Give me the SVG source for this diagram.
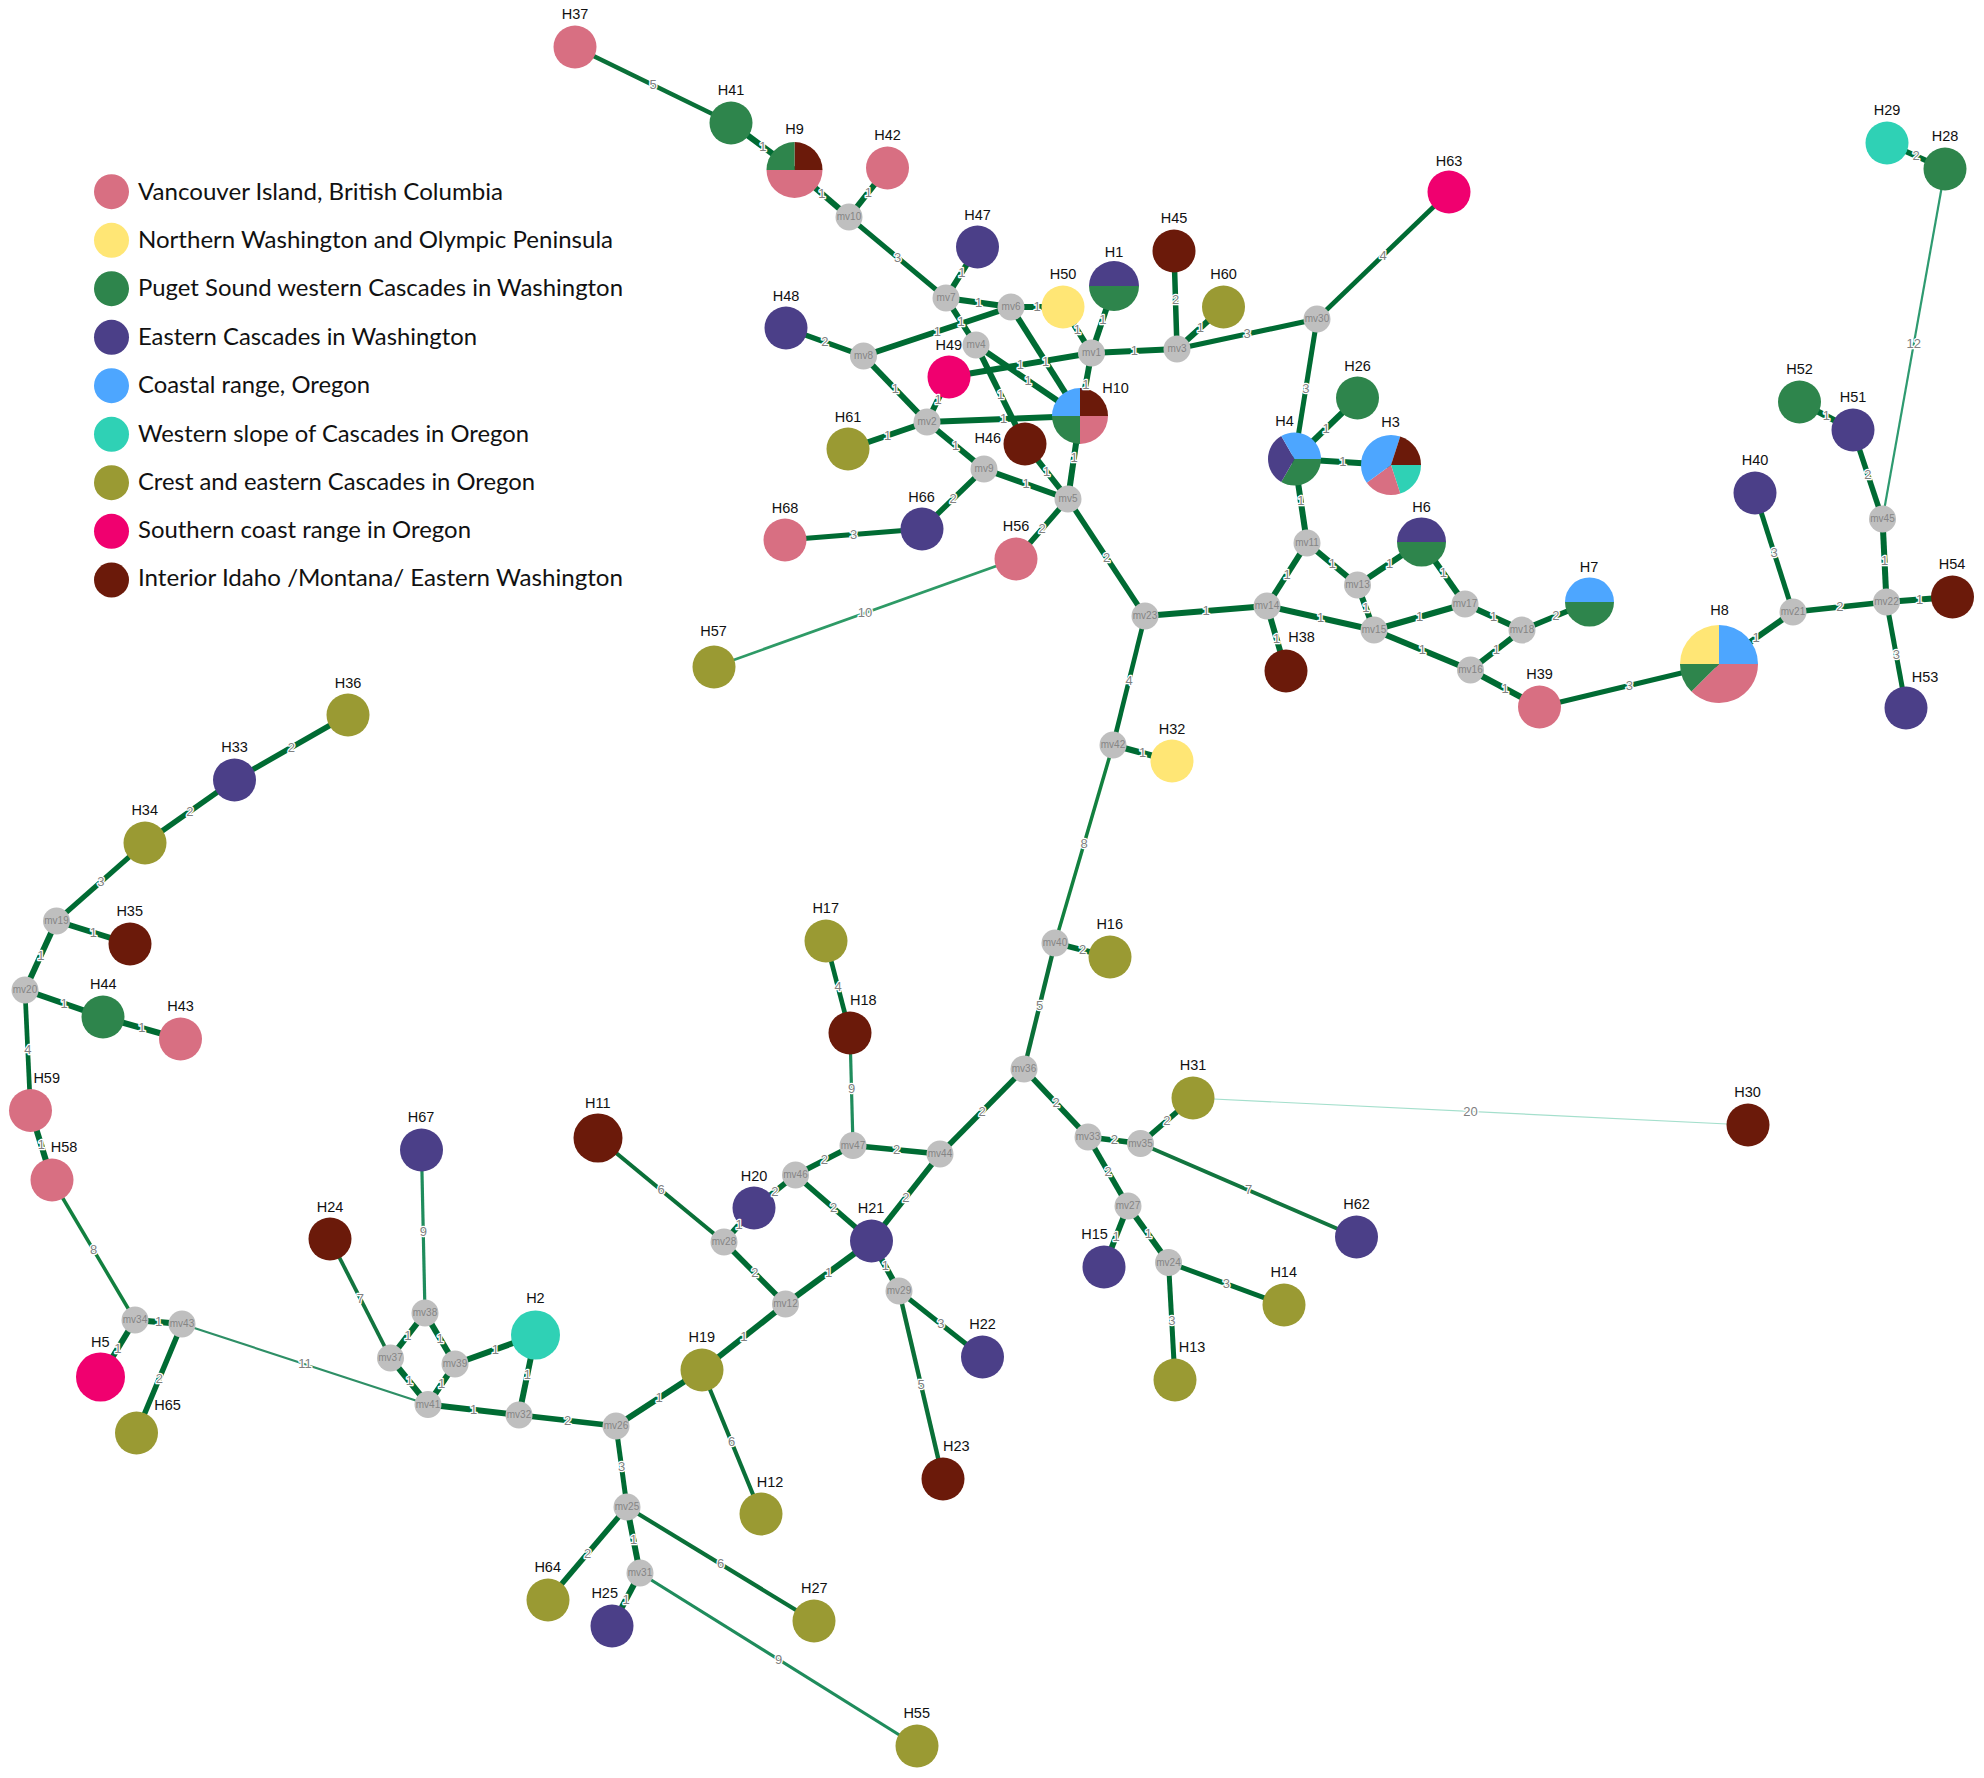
<svg xmlns="http://www.w3.org/2000/svg" width="1984" height="1778" viewBox="0 0 1984 1778">
<style>
text{font-family:"Liberation Sans",Arial,sans-serif}
.leg{font-family:Lato,"Open Sans",sans-serif;font-size:24px;fill:#111}
.h{font-size:14.5px;fill:#111;text-anchor:middle}
.m{font-size:10px;fill:#858585;text-anchor:middle}
.l{font-size:13px;fill:#808080;text-anchor:middle;stroke:#fff;stroke-width:2.5px;paint-order:stroke;stroke-linejoin:round}
.mv{fill:#bfbfbf}
.a{fill:#d86f82}.b{fill:#ffe675}.c{fill:#2e854c}.d{fill:#4b3f88}.e{fill:#4da6ff}.f{fill:#2fd1b5}.g{fill:#9a9a33}.p{fill:#f0006f}.r{fill:#6b1a0a}
line{fill:none}
.w1{stroke:#006b33;stroke-width:6}
.w2{stroke:#006b33;stroke-width:5.5}
.w3{stroke:#006b33;stroke-width:5}
.w4{stroke:#006b33;stroke-width:4.7}
.w5{stroke:#0a7038;stroke-width:4.4}
.w6{stroke:#0a7038;stroke-width:4.1}
.w7{stroke:#12753f;stroke-width:3.8}
.w8{stroke:#12803f;stroke-width:3.5}
.w9{stroke:#1f8c5c;stroke-width:3.2}
.w10{stroke:#2e9a66;stroke-width:2.8}
.w11{stroke:#2e8f66;stroke-width:2.2}
.w12{stroke:#2e9a70;stroke-width:2.2}
.w20{stroke:#a4dfcc;stroke-width:1.2}
</style>
<rect width="1984" height="1778" fill="#fff"/>
<g id="legend">
<circle class="a" cx="111.5" cy="191.7" r="17.5"/><text class="leg" x="138" y="200" textLength="365" lengthAdjust="spacingAndGlyphs">Vancouver Island, British Columbia</text>
<circle class="b" cx="111.5" cy="240.3" r="17.5"/><text class="leg" x="138" y="247.7" textLength="475" lengthAdjust="spacingAndGlyphs">Northern Washington and Olympic Peninsula</text>
<circle class="c" cx="111.5" cy="288.7" r="17.5"/><text class="leg" x="138" y="296" textLength="485" lengthAdjust="spacingAndGlyphs">Puget Sound western Cascades in Washington</text>
<circle class="d" cx="111.5" cy="337.3" r="17.5"/><text class="leg" x="138" y="345" textLength="339" lengthAdjust="spacingAndGlyphs">Eastern Cascades in Washington</text>
<circle class="e" cx="111.5" cy="385.7" r="17.5"/><text class="leg" x="138" y="393" textLength="232" lengthAdjust="spacingAndGlyphs">Coastal range, Oregon</text>
<circle class="f" cx="111.5" cy="434.3" r="17.5"/><text class="leg" x="138" y="441.7" textLength="391" lengthAdjust="spacingAndGlyphs">Western slope of Cascades in Oregon</text>
<circle class="g" cx="111.5" cy="482.7" r="17.5"/><text class="leg" x="138" y="490" textLength="397" lengthAdjust="spacingAndGlyphs">Crest and eastern Cascades in Oregon</text>
<circle class="p" cx="111.5" cy="531.3" r="17.5"/><text class="leg" x="138" y="538.3" textLength="333" lengthAdjust="spacingAndGlyphs">Southern coast range in Oregon</text>
<circle class="r" cx="111.5" cy="580" r="17.5"/><text class="leg" x="138" y="586" textLength="485" lengthAdjust="spacingAndGlyphs">Interior Idaho /Montana/ Eastern Washington</text>
</g>
<g id="connectors">
<line class="w5" x1="575" y1="47" x2="731" y2="123"/>
<line class="w1" x1="731" y1="123" x2="794.5" y2="170"/>
<line class="w1" x1="794.5" y1="170" x2="849" y2="217"/>
<line class="w1" x1="849" y1="217" x2="887.5" y2="168"/>
<line class="w3" x1="849" y1="217" x2="946" y2="298"/>
<line class="w1" x1="946" y1="298" x2="977.5" y2="247"/>
<line class="w1" x1="946" y1="298" x2="1011" y2="307"/>
<line class="w1" x1="946" y1="298" x2="976" y2="345"/>
<line class="w1" x1="1011" y1="307" x2="1063" y2="307"/>
<line class="w1" x1="1011" y1="307" x2="863.5" y2="356"/>
<line class="w1" x1="1011" y1="307" x2="1080" y2="416"/>
<line class="w1" x1="1063" y1="307" x2="1091.5" y2="353"/>
<line class="w1" x1="1114" y1="286" x2="1091.5" y2="353"/>
<line class="w1" x1="1091.5" y1="353" x2="1177" y2="349"/>
<line class="w1" x1="1091.5" y1="353" x2="1080" y2="416"/>
<line class="w1" x1="1091.5" y1="353" x2="949" y2="377"/>
<line class="w2" x1="1177" y1="349" x2="1174" y2="251"/>
<line class="w1" x1="1177" y1="349" x2="1223.5" y2="307"/>
<line class="w3" x1="1177" y1="349" x2="1317" y2="319"/>
<line class="w4" x1="1317" y1="319" x2="1449" y2="192"/>
<line class="w3" x1="1317" y1="319" x2="1294.5" y2="459"/>
<line class="w1" x1="976" y1="345" x2="1080" y2="416"/>
<line class="w1" x1="976" y1="345" x2="1025" y2="444"/>
<line class="w2" x1="786" y1="328" x2="863.5" y2="356"/>
<line class="w1" x1="863.5" y1="356" x2="927" y2="422"/>
<line class="w1" x1="949" y1="377" x2="927" y2="422"/>
<line class="w1" x1="927" y1="422" x2="1080" y2="416"/>
<line class="w1" x1="927" y1="422" x2="848" y2="449"/>
<line class="w1" x1="927" y1="422" x2="984" y2="469"/>
<line class="w2" x1="984" y1="469" x2="922" y2="529"/>
<line class="w1" x1="984" y1="469" x2="1068" y2="499"/>
<line class="w1" x1="1025" y1="444" x2="1068" y2="499"/>
<line class="w1" x1="1080" y1="416" x2="1068" y2="499"/>
<line class="w2" x1="1068" y1="499" x2="1016" y2="559"/>
<line class="w2" x1="1068" y1="499" x2="1145" y2="616"/>
<line class="w3" x1="922" y1="529" x2="785" y2="540"/>
<line class="w10" x1="1016" y1="559" x2="714" y2="667"/>
<line class="w1" x1="1145" y1="616" x2="1267" y2="606"/>
<line class="w4" x1="1145" y1="616" x2="1113" y2="745"/>
<line class="w1" x1="1267" y1="606" x2="1307" y2="543"/>
<line class="w1" x1="1267" y1="606" x2="1286" y2="671"/>
<line class="w1" x1="1267" y1="606" x2="1374" y2="630"/>
<line class="w1" x1="1307" y1="543" x2="1294.5" y2="459"/>
<line class="w1" x1="1307" y1="543" x2="1357.5" y2="585"/>
<line class="w1" x1="1357.5" y1="585" x2="1421.5" y2="542"/>
<line class="w1" x1="1357.5" y1="585" x2="1374" y2="630"/>
<line class="w1" x1="1421.5" y1="542" x2="1465" y2="604"/>
<line class="w1" x1="1374" y1="630" x2="1465" y2="604"/>
<line class="w1" x1="1374" y1="630" x2="1470.5" y2="670"/>
<line class="w1" x1="1465" y1="604" x2="1522" y2="630"/>
<line class="w1" x1="1522" y1="630" x2="1470.5" y2="670"/>
<line class="w2" x1="1522" y1="630" x2="1589.5" y2="602"/>
<line class="w1" x1="1470.5" y1="670" x2="1539.5" y2="707"/>
<line class="w3" x1="1539.5" y1="707" x2="1719" y2="664"/>
<line class="w1" x1="1719" y1="664" x2="1793" y2="612"/>
<line class="w3" x1="1793" y1="612" x2="1755" y2="493"/>
<line class="w2" x1="1793" y1="612" x2="1886.5" y2="602"/>
<line class="w1" x1="1886.5" y1="602" x2="1882.5" y2="519"/>
<line class="w1" x1="1886.5" y1="602" x2="1952.5" y2="597"/>
<line class="w3" x1="1886.5" y1="602" x2="1906" y2="708"/>
<line class="w2" x1="1882.5" y1="519" x2="1853" y2="430"/>
<line class="w1" x1="1853" y1="430" x2="1799.5" y2="402"/>
<line class="w12" x1="1882.5" y1="519" x2="1945" y2="169"/>
<line class="w2" x1="1945" y1="169" x2="1887" y2="143"/>
<line class="w1" x1="1294.5" y1="459" x2="1357.5" y2="398"/>
<line class="w1" x1="1294.5" y1="459" x2="1391" y2="465"/>
<line class="w1" x1="1113" y1="745" x2="1172" y2="761"/>
<line class="w8" x1="1113" y1="745" x2="1055" y2="943"/>
<line class="w2" x1="1055" y1="943" x2="1110" y2="957"/>
<line class="w5" x1="1055" y1="943" x2="1024" y2="1069"/>
<line class="w2" x1="1024" y1="1069" x2="940" y2="1154"/>
<line class="w2" x1="1024" y1="1069" x2="1088" y2="1137"/>
<line class="w2" x1="1088" y1="1137" x2="1140.5" y2="1143.5"/>
<line class="w2" x1="1088" y1="1137" x2="1128" y2="1206"/>
<line class="w2" x1="1140.5" y1="1143.5" x2="1193" y2="1098"/>
<line class="w7" x1="1140.5" y1="1143.5" x2="1356.5" y2="1237"/>
<line class="w20" x1="1193" y1="1098" x2="1748" y2="1125"/>
<line class="w1" x1="1128" y1="1206" x2="1104" y2="1267"/>
<line class="w1" x1="1128" y1="1206" x2="1168.5" y2="1262.5"/>
<line class="w3" x1="1168.5" y1="1262.5" x2="1284" y2="1305"/>
<line class="w3" x1="1168.5" y1="1262.5" x2="1175" y2="1380"/>
<line class="w2" x1="940" y1="1154" x2="853" y2="1145.5"/>
<line class="w2" x1="940" y1="1154" x2="871.5" y2="1241"/>
<line class="w9" x1="853" y1="1145.5" x2="850" y2="1033"/>
<line class="w4" x1="850" y1="1033" x2="826" y2="941"/>
<line class="w2" x1="853" y1="1145.5" x2="795.5" y2="1175"/>
<line class="w2" x1="795.5" y1="1175" x2="754" y2="1208"/>
<line class="w2" x1="795.5" y1="1175" x2="871.5" y2="1241"/>
<line class="w1" x1="754" y1="1208" x2="724" y2="1242"/>
<line class="w6" x1="724" y1="1242" x2="598" y2="1138"/>
<line class="w2" x1="724" y1="1242" x2="785.5" y2="1304"/>
<line class="w1" x1="785.5" y1="1304" x2="871.5" y2="1241"/>
<line class="w1" x1="785.5" y1="1304" x2="702" y2="1370"/>
<line class="w1" x1="871.5" y1="1241" x2="899" y2="1291"/>
<line class="w3" x1="899" y1="1291" x2="982.5" y2="1357"/>
<line class="w5" x1="899" y1="1291" x2="943" y2="1479"/>
<line class="w6" x1="702" y1="1370" x2="761" y2="1514"/>
<line class="w1" x1="702" y1="1370" x2="616" y2="1426"/>
<line class="w2" x1="616" y1="1426" x2="519" y2="1415"/>
<line class="w3" x1="616" y1="1426" x2="627" y2="1507"/>
<line class="w2" x1="627" y1="1507" x2="548" y2="1600"/>
<line class="w1" x1="627" y1="1507" x2="640" y2="1573"/>
<line class="w6" x1="627" y1="1507" x2="814" y2="1621"/>
<line class="w1" x1="640" y1="1573" x2="612" y2="1626"/>
<line class="w9" x1="640" y1="1573" x2="917" y2="1746"/>
<line class="w1" x1="519" y1="1415" x2="428" y2="1404.5"/>
<line class="w1" x1="519" y1="1415" x2="535.5" y2="1335"/>
<line class="w1" x1="428" y1="1404.5" x2="390.5" y2="1358"/>
<line class="w1" x1="428" y1="1404.5" x2="455" y2="1364"/>
<line class="w11" x1="428" y1="1404.5" x2="182" y2="1324"/>
<line class="w7" x1="390.5" y1="1358" x2="330" y2="1239"/>
<line class="w1" x1="390.5" y1="1358" x2="425" y2="1313"/>
<line class="w1" x1="425" y1="1313" x2="455" y2="1364"/>
<line class="w9" x1="425" y1="1313" x2="421.5" y2="1150"/>
<line class="w1" x1="455" y1="1364" x2="535.5" y2="1335"/>
<line class="w1" x1="182" y1="1324" x2="135" y2="1320"/>
<line class="w2" x1="182" y1="1324" x2="136.5" y2="1433"/>
<line class="w1" x1="135" y1="1320" x2="100.5" y2="1377"/>
<line class="w8" x1="135" y1="1320" x2="52" y2="1180"/>
<line class="w1" x1="52" y1="1180" x2="30.5" y2="1110.5"/>
<line class="w4" x1="30.5" y1="1110.5" x2="25" y2="990"/>
<line class="w1" x1="25" y1="990" x2="56.5" y2="921"/>
<line class="w1" x1="25" y1="990" x2="103" y2="1017"/>
<line class="w1" x1="103" y1="1017" x2="180.5" y2="1039"/>
<line class="w1" x1="56.5" y1="921" x2="130" y2="944"/>
<line class="w3" x1="56.5" y1="921" x2="145" y2="843"/>
<line class="w2" x1="145" y1="843" x2="234.5" y2="780"/>
<line class="w2" x1="234.5" y1="780" x2="348" y2="715"/>
</g>
<g id="nodes">
<g id="H37"><circle class="a" cx="575" cy="47" r="21.5"/><text class="h" x="575" y="19">H37</text></g>
<g id="H41"><circle class="c" cx="731" cy="123" r="21.5"/><text class="h" x="731" y="95">H41</text></g>
<g id="H9"><g transform="translate(794.5 170)"><path class="r" d="M0 0V-28A28 28 0 0 1 28 0Z"/><path class="c" d="M0 0H-28A28 28 0 0 1 0-28Z"/><path class="a" d="M-28 0A28 28 0 0 0 28 0Z"/></g><text class="h" x="794.5" y="134.3">H9</text></g>
<g id="H42"><circle class="a" cx="887.5" cy="168" r="21.5"/><text class="h" x="887.5" y="140">H42</text></g>
<g id="mv10"><circle class="mv" cx="849" cy="217" r="13.5"/><text class="m" x="849" y="220.3">mv10</text></g>
<g id="H47"><circle class="d" cx="977.5" cy="247" r="21.5"/><text class="h" x="977.5" y="219.7">H47</text></g>
<g id="mv7"><circle class="mv" cx="946" cy="298" r="13.5"/><text class="m" x="946" y="301.3">mv7</text></g>
<g id="mv6"><circle class="mv" cx="1011" cy="307" r="13.5"/><text class="m" x="1011" y="310.3">mv6</text></g>
<g id="H50"><circle class="b" cx="1063" cy="307" r="21.5"/><text class="h" x="1063" y="278.7">H50</text></g>
<g id="H1"><g transform="translate(1114 286)"><path class="d" d="M-25 0A25 25 0 0 1 25 0Z"/><path class="c" d="M-25 0A25 25 0 0 0 25 0Z"/></g><text class="h" x="1114" y="257">H1</text></g>
<g id="H45"><circle class="r" cx="1174" cy="251" r="21.5"/><text class="h" x="1174" y="223">H45</text></g>
<g id="H60"><circle class="g" cx="1223.5" cy="307" r="21.5"/><text class="h" x="1223.5" y="279">H60</text></g>
<g id="mv3"><circle class="mv" cx="1177" cy="349" r="13.5"/><text class="m" x="1177" y="352.3">mv3</text></g>
<g id="mv1"><circle class="mv" cx="1091.5" cy="353" r="13.5"/><text class="m" x="1091.5" y="356.3">mv1</text></g>
<g id="mv4"><circle class="mv" cx="976" cy="345" r="13.5"/><text class="m" x="976" y="348.3">mv4</text></g>
<g id="H48"><circle class="d" cx="786" cy="328" r="21.5"/><text class="h" x="786" y="301">H48</text></g>
<g id="mv8"><circle class="mv" cx="863.5" cy="356" r="13.5"/><text class="m" x="863.5" y="359.3">mv8</text></g>
<g id="H49"><circle class="p" cx="949" cy="377" r="21.5"/><text class="h" x="948.8" y="350">H49</text></g>
<g id="mv2"><circle class="mv" cx="927" cy="422" r="13.5"/><text class="m" x="927" y="425.3">mv2</text></g>
<g id="H10"><g transform="translate(1080 416)"><path class="e" d="M0 0H-28A28 28 0 0 1 0-28Z"/><path class="r" d="M0 0V-28A28 28 0 0 1 28 0Z"/><path class="a" d="M0 0H28A28 28 0 0 1 0 28Z"/><path class="c" d="M0 0V28A28 28 0 0 1-28 0Z"/></g><text class="h" x="1115.6" y="392.7">H10</text></g>
<g id="H61"><circle class="g" cx="848" cy="449" r="21.5"/><text class="h" x="848" y="421.7">H61</text></g>
<g id="H46"><circle class="r" cx="1025" cy="444" r="21.5"/><text class="h" x="987.8" y="443.3">H46</text></g>
<g id="mv9"><circle class="mv" cx="984" cy="469" r="13.5"/><text class="m" x="984" y="472.3">mv9</text></g>
<g id="mv5"><circle class="mv" cx="1068" cy="499" r="13.5"/><text class="m" x="1068" y="502.3">mv5</text></g>
<g id="H66"><circle class="d" cx="922" cy="529" r="21.5"/><text class="h" x="921.6" y="501.7">H66</text></g>
<g id="H68"><circle class="a" cx="785" cy="540" r="21.5"/><text class="h" x="785" y="512.7">H68</text></g>
<g id="H56"><circle class="a" cx="1016" cy="559" r="21.5"/><text class="h" x="1016" y="531">H56</text></g>
<g id="H57"><circle class="g" cx="714" cy="667" r="21.5"/><text class="h" x="713.6" y="636.4">H57</text></g>
<g id="H63"><circle class="p" cx="1449" cy="192" r="21.5"/><text class="h" x="1449" y="165.7">H63</text></g>
<g id="mv30"><circle class="mv" cx="1317" cy="319" r="13.5"/><text class="m" x="1317" y="322.3">mv30</text></g>
<g id="H26"><circle class="c" cx="1357.5" cy="398" r="21.5"/><text class="h" x="1357.5" y="370.7">H26</text></g>
<g id="H4"><g transform="translate(1294.5 459)"><path class="c" d="M0 0H26.5A26.5 26.5 0 0 1-13.25 22.95Z"/><path class="d" d="M0 0L-13.25 22.95A26.5 26.5 0 0 1-13.25-22.95Z"/><path class="e" d="M0 0L-13.25-22.95A26.5 26.5 0 0 1 26.5 0Z"/></g><text class="h" x="1284.5" y="426.3">H4</text></g>
<g id="H3"><g transform="translate(1391 465)"><path class="f" d="M0 0H30A30 30 0 0 1 9.27 28.53Z"/><path class="a" d="M0 0L9.27 28.53A30 30 0 0 1-24.27 17.63Z"/><path class="e" d="M0 0L-24.27 17.63A30 30 0 0 1 9.27-28.53Z"/><path class="r" d="M0 0L9.27-28.53A30 30 0 0 1 30 0Z"/></g><text class="h" x="1390.5" y="427.3">H3</text></g>
<g id="mv11"><circle class="mv" cx="1307" cy="543" r="13.5"/><text class="m" x="1307" y="546.3">mv11</text></g>
<g id="H6"><g transform="translate(1421.5 542)"><path class="d" d="M-24.5 0A24.5 24.5 0 0 1 24.5 0Z"/><path class="c" d="M-24.5 0A24.5 24.5 0 0 0 24.5 0Z"/></g><text class="h" x="1421.5" y="512.3">H6</text></g>
<g id="mv13"><circle class="mv" cx="1357.5" cy="585" r="13.5"/><text class="m" x="1357.5" y="588.3">mv13</text></g>
<g id="mv14"><circle class="mv" cx="1267" cy="606" r="13.5"/><text class="m" x="1267" y="609.3">mv14</text></g>
<g id="mv15"><circle class="mv" cx="1374" cy="630" r="13.5"/><text class="m" x="1374" y="633.3">mv15</text></g>
<g id="mv17"><circle class="mv" cx="1465" cy="604" r="13.5"/><text class="m" x="1465" y="607.3">mv17</text></g>
<g id="mv18"><circle class="mv" cx="1522" cy="630" r="13.5"/><text class="m" x="1522" y="633.3">mv18</text></g>
<g id="H7"><g transform="translate(1589.5 602)"><path class="e" d="M-24.5 0A24.5 24.5 0 0 1 24.5 0Z"/><path class="c" d="M-24.5 0A24.5 24.5 0 0 0 24.5 0Z"/></g><text class="h" x="1589" y="572">H7</text></g>
<g id="mv16"><circle class="mv" cx="1470.5" cy="670" r="13.5"/><text class="m" x="1470.5" y="673.3">mv16</text></g>
<g id="H38"><circle class="r" cx="1286" cy="671" r="21.5"/><text class="h" x="1301.5" y="642">H38</text></g>
<g id="H39"><circle class="a" cx="1539.5" cy="707" r="21.5"/><text class="h" x="1539.5" y="679.3">H39</text></g>
<g id="H8"><g transform="translate(1719 664)"><path class="e" d="M0 0V-39A39 39 0 0 1 39 0Z"/><path class="a" d="M0 0H39A39 39 0 0 1-27.58 27.58Z"/><path class="c" d="M0 0L-27.58 27.58A39 39 0 0 1-39 0Z"/><path class="b" d="M0 0H-39A39 39 0 0 1 0-39Z"/></g><text class="h" x="1719.5" y="614.7">H8</text></g>
<g id="mv21"><circle class="mv" cx="1793" cy="612" r="13.5"/><text class="m" x="1793" y="615.3">mv21</text></g>
<g id="mv22"><circle class="mv" cx="1886.5" cy="602" r="13.5"/><text class="m" x="1886.5" y="605.3">mv22</text></g>
<g id="mv45"><circle class="mv" cx="1882.5" cy="519" r="13.5"/><text class="m" x="1882.5" y="522.3">mv45</text></g>
<g id="H54"><circle class="r" cx="1952.5" cy="597" r="21.5"/><text class="h" x="1952" y="568.7">H54</text></g>
<g id="H53"><circle class="d" cx="1906" cy="708" r="21.5"/><text class="h" x="1925" y="681.7">H53</text></g>
<g id="H40"><circle class="d" cx="1755" cy="493" r="21.5"/><text class="h" x="1755" y="465.3">H40</text></g>
<g id="H51"><circle class="d" cx="1853" cy="430" r="21.5"/><text class="h" x="1853" y="402.3">H51</text></g>
<g id="H52"><circle class="c" cx="1799.5" cy="402" r="21.5"/><text class="h" x="1799.5" y="374.3">H52</text></g>
<g id="H29"><circle class="f" cx="1887" cy="143" r="21.5"/><text class="h" x="1887" y="115">H29</text></g>
<g id="H28"><circle class="c" cx="1945" cy="169" r="21.5"/><text class="h" x="1945" y="141">H28</text></g>
<g id="mv23"><circle class="mv" cx="1145" cy="616" r="13.5"/><text class="m" x="1145" y="619.3">mv23</text></g>
<g id="mv42"><circle class="mv" cx="1113" cy="745" r="13.5"/><text class="m" x="1113" y="748.3">mv42</text></g>
<g id="H32"><circle class="b" cx="1172" cy="761" r="21.5"/><text class="h" x="1172" y="733.7">H32</text></g>
<g id="mv40"><circle class="mv" cx="1055" cy="943" r="13.5"/><text class="m" x="1055" y="946.3">mv40</text></g>
<g id="H16"><circle class="g" cx="1110" cy="957" r="21.5"/><text class="h" x="1109.7" y="929">H16</text></g>
<g id="mv36"><circle class="mv" cx="1024" cy="1069" r="13.5"/><text class="m" x="1024" y="1072.3">mv36</text></g>
<g id="mv44"><circle class="mv" cx="940" cy="1154" r="13.5"/><text class="m" x="940" y="1157.3">mv44</text></g>
<g id="mv47"><circle class="mv" cx="853" cy="1145.5" r="13.5"/><text class="m" x="853" y="1148.8">mv47</text></g>
<g id="H18"><circle class="r" cx="850" cy="1033" r="21.5"/><text class="h" x="863.3" y="1005.3">H18</text></g>
<g id="H17"><circle class="g" cx="826" cy="941" r="21.5"/><text class="h" x="825.7" y="912.7">H17</text></g>
<g id="mv33"><circle class="mv" cx="1088" cy="1137" r="13.5"/><text class="m" x="1088" y="1140.3">mv33</text></g>
<g id="mv35"><circle class="mv" cx="1140.5" cy="1143.5" r="13.5"/><text class="m" x="1140.5" y="1146.8">mv35</text></g>
<g id="H31"><circle class="g" cx="1193" cy="1098" r="21.5"/><text class="h" x="1193" y="1069.7">H31</text></g>
<g id="H30"><circle class="r" cx="1748" cy="1125" r="21.5"/><text class="h" x="1747.5" y="1097">H30</text></g>
<g id="H62"><circle class="d" cx="1356.5" cy="1237" r="21.5"/><text class="h" x="1356.5" y="1208.7">H62</text></g>
<g id="mv27"><circle class="mv" cx="1128" cy="1206" r="13.5"/><text class="m" x="1128" y="1209.3">mv27</text></g>
<g id="H15"><circle class="d" cx="1104" cy="1267" r="21.5"/><text class="h" x="1094.6" y="1239">H15</text></g>
<g id="mv24"><circle class="mv" cx="1168.5" cy="1262.5" r="13.5"/><text class="m" x="1168.5" y="1265.8">mv24</text></g>
<g id="H14"><circle class="g" cx="1284" cy="1305" r="21.5"/><text class="h" x="1283.7" y="1277">H14</text></g>
<g id="H13"><circle class="g" cx="1175" cy="1380" r="21.5"/><text class="h" x="1192" y="1352">H13</text></g>
<g id="mv46"><circle class="mv" cx="795.5" cy="1175" r="13.5"/><text class="m" x="795.5" y="1178.3">mv46</text></g>
<g id="H20"><circle class="d" cx="754" cy="1208" r="21.5"/><text class="h" x="754" y="1180.7">H20</text></g>
<g id="H21"><circle class="d" cx="871.5" cy="1241" r="21.5"/><text class="h" x="871" y="1213">H21</text></g>
<g id="mv28"><circle class="mv" cx="724" cy="1242" r="13.5"/><text class="m" x="724" y="1245.3">mv28</text></g>
<g id="H11"><circle class="r" cx="598" cy="1138" r="24.5"/><text class="h" x="597.8" y="1107.7">H11</text></g>
<g id="mv12"><circle class="mv" cx="785.5" cy="1304" r="13.5"/><text class="m" x="785.5" y="1307.3">mv12</text></g>
<g id="mv29"><circle class="mv" cx="899" cy="1291" r="13.5"/><text class="m" x="899" y="1294.3">mv29</text></g>
<g id="H22"><circle class="d" cx="982.5" cy="1357" r="21.5"/><text class="h" x="982.6" y="1329">H22</text></g>
<g id="H23"><circle class="r" cx="943" cy="1479" r="21.5"/><text class="h" x="956.3" y="1451">H23</text></g>
<g id="H19"><circle class="g" cx="702" cy="1370" r="21.5"/><text class="h" x="701.8" y="1342">H19</text></g>
<g id="H12"><circle class="g" cx="761" cy="1514" r="21.5"/><text class="h" x="770" y="1486.7">H12</text></g>
<g id="mv26"><circle class="mv" cx="616" cy="1426" r="13.5"/><text class="m" x="616" y="1429.3">mv26</text></g>
<g id="mv25"><circle class="mv" cx="627" cy="1507" r="13.5"/><text class="m" x="627" y="1510.3">mv25</text></g>
<g id="mv31"><circle class="mv" cx="640" cy="1573" r="13.5"/><text class="m" x="640" y="1576.3">mv31</text></g>
<g id="H64"><circle class="g" cx="548" cy="1600" r="21.5"/><text class="h" x="547.7" y="1572">H64</text></g>
<g id="H25"><circle class="d" cx="612" cy="1626" r="21.5"/><text class="h" x="604.7" y="1598">H25</text></g>
<g id="H27"><circle class="g" cx="814" cy="1621" r="21.5"/><text class="h" x="814.3" y="1593">H27</text></g>
<g id="H55"><circle class="g" cx="917" cy="1746" r="21.5"/><text class="h" x="916.7" y="1718.3">H55</text></g>
<g id="mv32"><circle class="mv" cx="519" cy="1415" r="13.5"/><text class="m" x="519" y="1418.3">mv32</text></g>
<g id="mv41"><circle class="mv" cx="428" cy="1404.5" r="13.5"/><text class="m" x="428" y="1407.8">mv41</text></g>
<g id="mv37"><circle class="mv" cx="390.5" cy="1358" r="13.5"/><text class="m" x="390.5" y="1361.3">mv37</text></g>
<g id="mv38"><circle class="mv" cx="425" cy="1313" r="13.5"/><text class="m" x="425" y="1316.3">mv38</text></g>
<g id="mv39"><circle class="mv" cx="455" cy="1364" r="13.5"/><text class="m" x="455" y="1367.3">mv39</text></g>
<g id="H2"><circle class="f" cx="535.5" cy="1335" r="24.5"/><text class="h" x="535.4" y="1303">H2</text></g>
<g id="H67"><circle class="d" cx="421.5" cy="1150" r="21.5"/><text class="h" x="421" y="1122">H67</text></g>
<g id="H24"><circle class="r" cx="330" cy="1239" r="21.5"/><text class="h" x="330" y="1211.5">H24</text></g>
<g id="mv43"><circle class="mv" cx="182" cy="1324" r="13.5"/><text class="m" x="182" y="1327.3">mv43</text></g>
<g id="mv34"><circle class="mv" cx="135" cy="1320" r="13.5"/><text class="m" x="135" y="1323.3">mv34</text></g>
<g id="H5"><circle class="p" cx="100.5" cy="1377" r="24.5"/><text class="h" x="100.3" y="1346.7">H5</text></g>
<g id="H65"><circle class="g" cx="136.5" cy="1433" r="21.5"/><text class="h" x="167.6" y="1409.5">H65</text></g>
<g id="H58"><circle class="a" cx="52" cy="1180" r="21.5"/><text class="h" x="64" y="1151.8">H58</text></g>
<g id="H59"><circle class="a" cx="30.5" cy="1110.5" r="21.5"/><text class="h" x="46.7" y="1083">H59</text></g>
<g id="mv20"><circle class="mv" cx="25" cy="990" r="13.5"/><text class="m" x="25" y="993.3">mv20</text></g>
<g id="mv19"><circle class="mv" cx="56.5" cy="921" r="13.5"/><text class="m" x="56.5" y="924.3">mv19</text></g>
<g id="H35"><circle class="r" cx="130" cy="944" r="21.5"/><text class="h" x="129.7" y="916">H35</text></g>
<g id="H44"><circle class="c" cx="103" cy="1017" r="21.5"/><text class="h" x="103.3" y="988.6">H44</text></g>
<g id="H43"><circle class="a" cx="180.5" cy="1039" r="21.5"/><text class="h" x="180.6" y="1010.5">H43</text></g>
<g id="H34"><circle class="g" cx="145" cy="843" r="21.5"/><text class="h" x="144.7" y="815">H34</text></g>
<g id="H33"><circle class="d" cx="234.5" cy="780" r="21.5"/><text class="h" x="234.6" y="751.8">H33</text></g>
<g id="H36"><circle class="g" cx="348" cy="715" r="21.5"/><text class="h" x="348" y="687.6">H36</text></g>
</g>
<g id="connector-labels">
<text class="l" x="653" y="89">5</text>
<text class="l" x="762.75" y="150.5">1</text>
<text class="l" x="821.75" y="197.5">1</text>
<text class="l" x="868.25" y="196.5">1</text>
<text class="l" x="897.5" y="261.5">3</text>
<text class="l" x="961.75" y="276.5">1</text>
<text class="l" x="978.5" y="306.5">1</text>
<text class="l" x="961" y="325.5">1</text>
<text class="l" x="1037" y="311">1</text>
<text class="l" x="937.25" y="335.5">1</text>
<text class="l" x="1045.5" y="365.5">1</text>
<text class="l" x="1077.25" y="334">1</text>
<text class="l" x="1102.75" y="323.5">1</text>
<text class="l" x="1134.25" y="355">1</text>
<text class="l" x="1085.75" y="388.5">1</text>
<text class="l" x="1020.25" y="369">1</text>
<text class="l" x="1175.5" y="304">2</text>
<text class="l" x="1200.25" y="332">1</text>
<text class="l" x="1247" y="338">3</text>
<text class="l" x="1383" y="259.5">4</text>
<text class="l" x="1305.75" y="393">3</text>
<text class="l" x="1028" y="384.5">1</text>
<text class="l" x="1000.5" y="398.5">1</text>
<text class="l" x="824.75" y="346">2</text>
<text class="l" x="895.25" y="393">1</text>
<text class="l" x="938" y="403.5">1</text>
<text class="l" x="1003.5" y="423">1</text>
<text class="l" x="887.5" y="439.5">1</text>
<text class="l" x="955.5" y="449.5">1</text>
<text class="l" x="953" y="503">2</text>
<text class="l" x="1026" y="488">1</text>
<text class="l" x="1046.5" y="475.5">1</text>
<text class="l" x="1074" y="461.5">1</text>
<text class="l" x="1042" y="533">2</text>
<text class="l" x="1106.5" y="561.5">2</text>
<text class="l" x="853.5" y="538.5">3</text>
<text class="l" x="865" y="617">10</text>
<text class="l" x="1206" y="615">1</text>
<text class="l" x="1129" y="684.5">4</text>
<text class="l" x="1287" y="578.5">1</text>
<text class="l" x="1276.5" y="642.5">1</text>
<text class="l" x="1320.5" y="622">1</text>
<text class="l" x="1300.75" y="505">1</text>
<text class="l" x="1332.25" y="568">1</text>
<text class="l" x="1389.5" y="567.5">1</text>
<text class="l" x="1365.75" y="611.5">1</text>
<text class="l" x="1443.25" y="577">1</text>
<text class="l" x="1419.5" y="621">1</text>
<text class="l" x="1422.25" y="654">1</text>
<text class="l" x="1493.5" y="621">1</text>
<text class="l" x="1496.25" y="654">1</text>
<text class="l" x="1555.75" y="620">2</text>
<text class="l" x="1505" y="692.5">1</text>
<text class="l" x="1629.25" y="689.5">3</text>
<text class="l" x="1756" y="642">1</text>
<text class="l" x="1774" y="556.5">3</text>
<text class="l" x="1839.75" y="611">2</text>
<text class="l" x="1884.5" y="564.5">1</text>
<text class="l" x="1919.5" y="603.5">1</text>
<text class="l" x="1896.25" y="659">3</text>
<text class="l" x="1867.75" y="478.5">2</text>
<text class="l" x="1826.25" y="420">1</text>
<text class="l" x="1913.75" y="348">12</text>
<text class="l" x="1916" y="160">2</text>
<text class="l" x="1326" y="432.5">1</text>
<text class="l" x="1342.75" y="466">1</text>
<text class="l" x="1142.5" y="757">1</text>
<text class="l" x="1084" y="848">8</text>
<text class="l" x="1082.5" y="954">2</text>
<text class="l" x="1039.5" y="1010">5</text>
<text class="l" x="982" y="1115.5">2</text>
<text class="l" x="1056" y="1107">2</text>
<text class="l" x="1114.25" y="1144.25">2</text>
<text class="l" x="1108" y="1175.5">2</text>
<text class="l" x="1166.75" y="1124.75">2</text>
<text class="l" x="1248.5" y="1194.25">7</text>
<text class="l" x="1470.5" y="1115.5">20</text>
<text class="l" x="1116" y="1240.5">1</text>
<text class="l" x="1148.25" y="1238.25">1</text>
<text class="l" x="1226.25" y="1287.75">3</text>
<text class="l" x="1171.75" y="1325.25">3</text>
<text class="l" x="896.5" y="1153.75">2</text>
<text class="l" x="905.75" y="1201.5">2</text>
<text class="l" x="851.5" y="1093.25">9</text>
<text class="l" x="838" y="991">4</text>
<text class="l" x="824.25" y="1164.25">2</text>
<text class="l" x="774.75" y="1195.5">2</text>
<text class="l" x="833.5" y="1212">2</text>
<text class="l" x="739" y="1229">1</text>
<text class="l" x="661" y="1194">6</text>
<text class="l" x="754.75" y="1277">2</text>
<text class="l" x="828.5" y="1276.5">1</text>
<text class="l" x="743.75" y="1341">1</text>
<text class="l" x="885.25" y="1270">1</text>
<text class="l" x="940.75" y="1328">3</text>
<text class="l" x="921" y="1389">5</text>
<text class="l" x="731.5" y="1446">6</text>
<text class="l" x="659" y="1402">1</text>
<text class="l" x="567.5" y="1424.5">2</text>
<text class="l" x="621.5" y="1470.5">3</text>
<text class="l" x="587.5" y="1557.5">2</text>
<text class="l" x="633.5" y="1544">1</text>
<text class="l" x="720.5" y="1568">6</text>
<text class="l" x="626" y="1603.5">1</text>
<text class="l" x="778.5" y="1663.5">9</text>
<text class="l" x="473.5" y="1413.75">1</text>
<text class="l" x="527.25" y="1379">1</text>
<text class="l" x="409.25" y="1385.25">1</text>
<text class="l" x="441.5" y="1388.25">1</text>
<text class="l" x="305" y="1368.25">11</text>
<text class="l" x="360.25" y="1302.5">7</text>
<text class="l" x="407.75" y="1339.5">1</text>
<text class="l" x="440" y="1342.5">1</text>
<text class="l" x="423.25" y="1235.5">9</text>
<text class="l" x="495.25" y="1353.5">1</text>
<text class="l" x="158.5" y="1326">1</text>
<text class="l" x="159.25" y="1382.5">2</text>
<text class="l" x="117.75" y="1352.5">1</text>
<text class="l" x="93.5" y="1254">8</text>
<text class="l" x="41.25" y="1149.25">1</text>
<text class="l" x="27.75" y="1054.25">4</text>
<text class="l" x="40.75" y="959.5">1</text>
<text class="l" x="64" y="1007.5">1</text>
<text class="l" x="141.75" y="1032">1</text>
<text class="l" x="93.25" y="936.5">1</text>
<text class="l" x="100.75" y="886">3</text>
<text class="l" x="189.75" y="815.5">2</text>
<text class="l" x="291.25" y="751.5">2</text>
</g>
</svg>
